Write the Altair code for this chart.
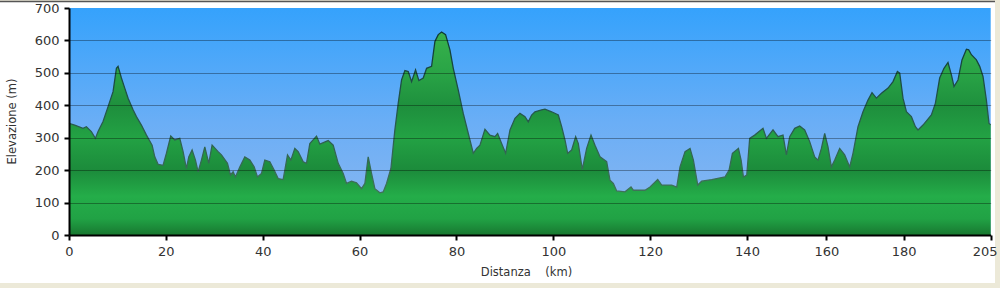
import altair as alt
import pandas as pd

# ---- data ----
km = [0, 1.18, 2.90, 3.59, 4.62, 5.45, 6.00, 7.03, 8.07, 9.10,
      9.79, 10.13, 10.82, 11.51, 12.20, 13.23, 13.92, 14.95, 15.99, 17.16,
      17.71, 18.40, 19.43, 20.12, 21.01, 21.84, 22.87, 23.56, 24.25, 24.73,
      25.42, 26.11, 26.66, 27.35, 28.04, 28.86, 29.55, 30.79, 31.48, 32.72,
      33.34, 33.89, 34.37, 35.27, 36.30, 37.34, 38.23, 38.92, 39.75, 40.43,
      41.47, 42.36, 43.19, 44.22, 45.12, 45.81, 46.63, 47.32, 48.36, 49.04,
      49.73, 51.11, 51.80, 53.52, 54.55, 55.59, 56.62, 57.31, 58.34, 59.37,
      60.41, 61.10, 61.78, 62.47, 63.16, 64.19, 64.88, 65.57, 66.47, 67.29,
      67.98, 68.67, 69.36, 70.05, 70.74, 71.56, 72.25, 73.15, 73.84, 74.87,
      75.56, 76.25, 76.94, 77.76, 78.66, 79.35, 80.38, 81.41, 82.45, 83.48,
      84.17, 84.86, 85.89, 86.92, 87.96, 88.51, 89.33, 90.16, 91.06, 92.09,
      93.12, 94.16, 94.84, 95.53, 96.22, 97.59, 98.28, 99.66, 101.04, 101.73,
      102.41, 102.97, 103.79, 104.62, 105.17, 105.99, 106.89, 107.79, 108.61, 109.65,
      111.02, 111.71, 112.40, 113.09, 114.81, 116.05, 116.53, 118.94, 119.98, 121.56,
      122.39, 124.45, 125.49, 126.17, 127.21, 128.24, 128.93, 129.83, 130.65, 132.72,
      135.47, 136.30, 136.99, 138.23, 138.78, 139.26, 139.95, 140.68, 141.94, 144.03,
      144.89, 146.55, 147.81, 149.07, 149.92, 150.76, 152.02, 153.27, 154.53, 155.79,
      157.05, 157.88, 158.74, 159.57, 160.41, 161.29, 162.15, 163.44, 164.73, 166.03,
      166.88, 168.18, 169.47, 170.76, 171.80, 172.94, 174.24, 175.95, 177.24, 178.37,
      178.97, 179.82, 180.78, 182.21, 183.36, 184.11, 185.55, 187.95, 189.10, 190.34,
      191.58, 192.73, 193.71, 194.45, 195.60, 196.75, 198.02, 198.68, 199.45, 200.89,
      201.84, 202.79, 203.76, 204.51, 205]

elev = [344, 339, 329, 334, 319, 298, 319, 350, 396, 442,
        514, 520, 484, 453, 422, 386, 365, 339, 308, 277,
        241, 218, 215, 252, 305, 293, 298, 257, 205, 241,
        262, 231, 195, 231, 272, 221, 277, 257, 247, 221,
        185, 195, 179, 210, 241, 231, 210, 179, 190, 231,
        226, 200, 174, 171, 247, 231, 267, 257, 226, 221,
        282, 305, 280, 291, 277, 221, 190, 159, 166, 161,
        143, 159, 241, 190, 143, 130, 133, 159, 205, 324,
        406, 478, 507, 504, 473, 509, 476, 484, 514, 520,
        597, 618, 626, 618, 571, 514, 447, 375, 313, 252,
        267, 277, 326, 308, 303, 313, 282, 252, 324, 360,
        375, 365, 349, 370, 380, 386, 388, 380, 370, 334,
        293, 252, 262, 303, 282, 202, 267, 308, 277, 241,
        226, 169, 159, 136, 133, 148, 138, 138, 148, 171,
        154, 154, 148, 210, 257, 267, 231, 154, 166, 171,
        179, 200, 252, 267, 231, 179, 185, 298, 308, 329,
        298, 324, 303, 308, 247, 303, 329, 336, 324, 288,
        241, 231, 267, 313, 272, 210, 231, 267, 247, 210,
        252, 334, 380, 416, 439, 422, 437, 453, 473, 504,
        499, 422, 380, 365, 334, 324, 339, 370, 406, 484,
        514, 532, 494, 458, 478, 540, 573, 571, 556, 540,
        520, 489, 416, 344, 340]

x_ticks = [0, 20, 40, 60, 80, 100, 120, 140, 160, 180, 205]
y_ticks = [0, 100, 200, 300, 400, 500, 600, 700]
x_break_km = [0, 140, 160, 180, 205]          # the original axis is not uniform
x_break_px = [0, 678, 757.4, 834.7, 921.7]

profile = pd.DataFrame({"km": km, "elev": elev})
one = pd.DataFrame({"a": [0]})
sky_df = pd.DataFrame({"x0": [0], "x1": [205], "y0": [0], "y1": [700]})

W, H = 922, 227
FONT = "DejaVu Sans"
TXT = "#333333"
NB = "\u00a0"

xscale = alt.Scale(domain=x_break_km, range=x_break_px, nice=False, zero=False)
yscale = alt.Scale(domain=[0, 700], nice=False, zero=True)

xaxis = alt.Axis(
    values=x_ticks, title="Distanza" + NB * 4 + "(km)", grid=False,
    domainColor="black", domainWidth=2, tickColor="black", tickWidth=2, tickSize=5,
    labelFont=FONT, labelFontSize=13, labelColor=TXT, labelPadding=5, labelFlush=False,
    labelOffset={"condition": {"test": "datum.value == 205", "value": -6}, "value": 0},
    titleFont=FONT, titleFontSize=11.5, titleFontWeight="normal", titleColor=TXT,
    titleX=457, titleY=40, titleBaseline="alphabetic", zindex=1,
)
yaxis = alt.Axis(
    values=y_ticks, title="Elevazione (m)", grid=True, gridColor="black",
    gridOpacity={"condition": {"test": "datum.value == 0 || datum.value == 700", "value": 0}, "value": 0.34},
    gridWidth=1,
    domainColor="black", domainWidth=2, tickColor="black", tickWidth=2, tickSize=5,
    labelFont=FONT, labelFontSize=13, labelColor=TXT, labelPadding=5,
    titleFont=FONT, titleFontSize=11.5, titleFontWeight="normal", titleColor=TXT,
    titleX=-52, titleY=113, zindex=1,
)

frame = alt.Chart(one).mark_rect(color="white").encode(
    x=alt.value(-69), x2=alt.value(926), y=alt.value(-6), y2=alt.value(275)
)
topline = alt.Chart(one).mark_rule(color="#555555", strokeWidth=1.5).encode(
    x=alt.value(-69), x2=alt.value(926), y=alt.value(-6.5)
)

sky_grad = alt.Gradient(
    gradient="linear", x1=0, x2=0, y1=0, y2=1,
    stops=[alt.GradientStop(color="#35a2fc", offset=0),
           alt.GradientStop(color="#6aaef6", offset=0.5),
           alt.GradientStop(color="#8fb8ef", offset=1)],
)
sky = alt.Chart(sky_df).mark_rect(color=sky_grad).encode(
    x=alt.X("x0:Q", scale=xscale, axis=xaxis),
    x2="x1:Q",
    y=alt.Y("y0:Q", scale=yscale, axis=yaxis),
    y2="y1:Q",
)

green_grad = alt.Gradient(
    gradient="linear", x1=0, x2=0, y1=0, y2=1,
    stops=[alt.GradientStop(color="#38b24c", offset=0.0),
           alt.GradientStop(color="#29a446", offset=0.2),
           alt.GradientStop(color="#1e8f3d", offset=0.37),
           alt.GradientStop(color="#23a244", offset=0.52),
           alt.GradientStop(color="#1c8b3b", offset=0.68),
           alt.GradientStop(color="#24ad49", offset=0.81),
           alt.GradientStop(color="#21a245", offset=0.92),
           alt.GradientStop(color="#187830", offset=1.0)],
)
line_grad = alt.Gradient(
    gradient="linear", x1=0, x2=0, y1=0, y2=1,
    stops=[alt.GradientStop(color="#0f3a36", offset=0.0),
           alt.GradientStop(color="#22554a", offset=0.45),
           alt.GradientStop(color="#3f7359", offset=1.0)],
)
area = alt.Chart(profile).mark_area(color=green_grad, interpolate="linear").encode(
    x=alt.X("km:Q", scale=xscale, axis=xaxis),
    y=alt.Y("elev:Q", scale=yscale, axis=yaxis),
)
outline = alt.Chart(profile).mark_line(color=line_grad, strokeWidth=1.3, interpolate="linear").encode(
    x=alt.X("km:Q", scale=xscale, axis=xaxis),
    y=alt.Y("elev:Q", scale=yscale, axis=yaxis),
)

chart = alt.layer(frame, topline, sky, area, outline).properties(
    width=W, height=H,
    padding={"left": 69, "top": 8, "right": 9, "bottom": 53},
    autosize="none",
    background="#ece9d8",
).configure_view(stroke=None)

chart.save("out.html", embed_options={"renderer": "svg", "actions": False})
